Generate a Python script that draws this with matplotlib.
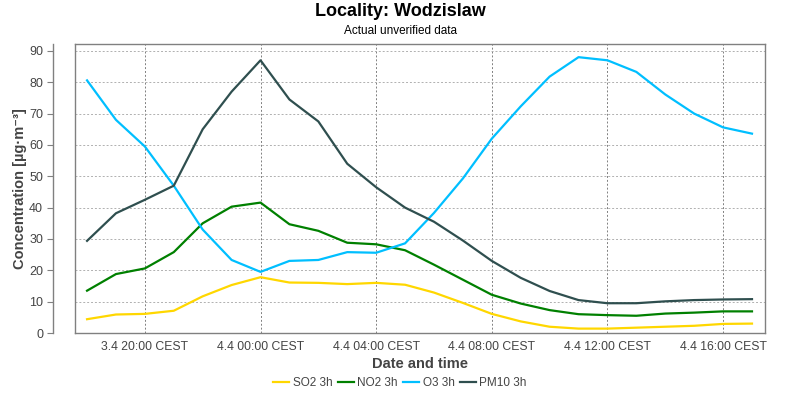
#!/usr/bin/env python3
import matplotlib
matplotlib.use('Agg')
import matplotlib.pyplot as plt
import matplotlib.dates as mdates
import pandas as pd

# hourly values, 3.4 18:00 -> 4.4 17:00
times = pd.date_range('2024-04-03 18:00', periods=24, freq='h')
so2 = [4.4, 5.9, 6.1, 7.1, 11.7, 15.3, 17.8, 16.1, 16.0, 15.6, 16.0, 15.4,
       12.9, 9.6, 6.1, 3.7, 2.0, 1.4, 1.4, 1.7, 2.0, 2.3, 2.9, 3.0]
no2 = [13.5, 18.8, 20.6, 25.8, 35.0, 40.3, 41.6, 34.7, 32.6, 28.8, 28.3, 26.4,
       21.8, 17.0, 12.2, 9.4, 7.3, 6.0, 5.7, 5.5, 6.2, 6.5, 6.9, 6.9]
o3 = [80.6, 68.0, 59.5, 47.0, 33.0, 23.3, 19.5, 23.0, 23.3, 25.8, 25.6, 28.6,
      38.3, 49.3, 62.0, 72.3, 81.8, 88.0, 87.0, 83.3, 76.1, 70.0, 65.6, 63.6]
pm10 = [29.4, 38.2, 42.5, 47.0, 65.0, 77.0, 87.0, 74.5, 67.5, 54.0, 46.5, 40.0,
        35.5, 29.5, 23.0, 17.6, 13.4, 10.5, 9.5, 9.5, 10.1, 10.5, 10.7, 10.8]

series = [('SO2 3h', so2, '#FFD700'),
          ('NO2 3h', no2, '#008000'),
          ('O3 3h', o3, '#00BFFF'),
          ('PM10 3h', pm10, '#2F4F4F')]

plt.rcParams['font.family'] = ['Liberation Sans', 'DejaVu Sans']

fig = plt.figure(figsize=(8, 4), dpi=100)
ax = fig.add_axes([0.09375, 0.1675, 0.8625, 0.7225])

for name, vals, col in series:
    ax.plot(times, vals, color=col, lw=1.6, label=name, solid_joinstyle='round')

ax.set_ylim(0, 92.2)
ax.set_xlim(pd.Timestamp('2024-04-03 17:35'), pd.Timestamp('2024-04-04 17:27'))
ax.set_yticks(range(0, 91, 10))

ax.xaxis.set_major_locator(mdates.HourLocator(byhour=[0, 4, 8, 12, 16, 20]))
ax.xaxis.set_major_formatter(mdates.DateFormatter('%-d.%-m %H:%M CEST'))

ax.xaxis.grid(True, color='#808080', linestyle=(0, (2, 2)), lw=0.7)
ax.yaxis.grid(True, color='#b0b0b0', linestyle=(0, (2, 2)), lw=0.7)
for s in ax.spines.values():
    s.set_color('#808080')
    s.set_linewidth(1.0)
ax.spines['left'].set_position(('outward', 16))
# frame edge that the offset axis leaves behind
ax.plot([0, 0], [0, 1], transform=ax.transAxes, color='#808080', lw=1.0,
        clip_on=False)

ax.tick_params(axis='y', colors='#808080', labelcolor='#444444', length=4,
               labelsize=9, pad=3)
ax.tick_params(axis='x', length=0, labelcolor='#444444', labelsize=8.8, pad=6)

ax.set_xlabel('Date and time', fontsize=10.5, fontweight='bold', color='#444444',
              labelpad=3)
ax.set_ylabel('Concentration [µg·m⁻³]', fontsize=10.5, fontweight='bold',
              color='#444444')
ax.yaxis.set_label_coords(-0.07, 0.5)

fig.text(0.5, 0.97, 'Locality: Wodzislaw', ha='center', va='center',
         fontsize=13, fontweight='bold')
fig.text(0.5, 0.922, 'Actual unverified data', ha='center', va='center',
         fontsize=8.5)

fig.legend(loc='center', bbox_to_anchor=(0.5, 0.043), ncol=4, frameon=False,
           fontsize=8.5, handlelength=1.35, columnspacing=0.45, handletextpad=0.3,
           labelcolor='#444444')

fig.savefig('out.png', dpi=100)
